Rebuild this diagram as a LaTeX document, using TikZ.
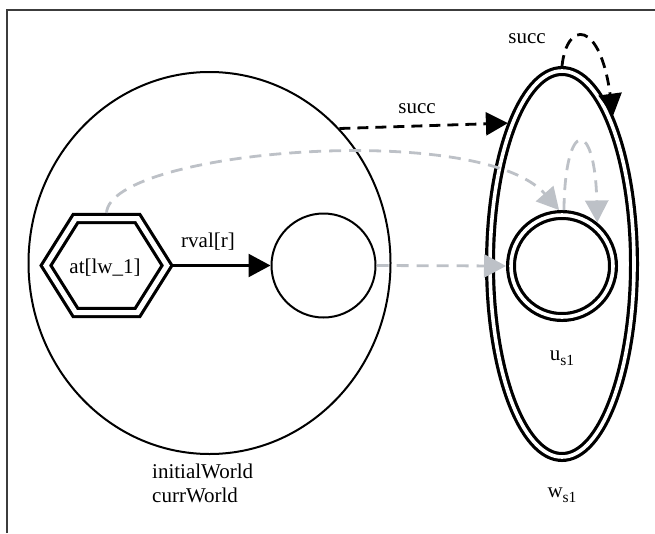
\documentclass[tikz,border=0pt]{standalone}
\usepackage{fontspec}
\setmainfont{Liberation Serif}
\usetikzlibrary{arrows.meta,shapes.geometric}
\definecolor{lgray}{RGB}{189,193,199}
\definecolor{framegray}{RGB}{60,60,60}
\newcommand\lowsub[1]{\raisebox{-5pt}{\fontsize{15.5}{15.5}\selectfont #1}}
\begin{document}
\begin{tikzpicture}[x=1pt,y=-1pt,
  lbl/.style={font=\fontsize{21}{24}\selectfont, inner sep=0pt, anchor=base},
  world/.style={draw, ellipse, line width=2pt, inner sep=0pt},
  dbl/.style={draw, line width=3.2pt, double=white, double distance=3.6pt, inner sep=0pt},
  hexline/.style={draw, line width=3.2pt, double=white, double distance=5pt, line join=miter},
  tip/.style={-{Triangle[length=22pt,width=23pt]}},
  solidarrow/.style={tip, line width=2.4pt},
  blackdash/.style={tip, line width=2.8pt, dash pattern=on 11pt off 7pt},
  graydash/.style={tip, draw=lgray, line width=2.8pt, dash pattern=on 12pt off 8pt}
]
\useasboundingbox (0,0) rectangle (655,533);
% frame
\draw[framegray, line width=1.5pt] (7,533) -- (7,10) -- (655,10);

% left world
\node[world, minimum width=362pt, minimum height=382pt] (W0) at (209.5,263) {};
% hexagon
\draw[hexline] (46,265.5) -- (75.5,218.5) -- (137.5,218.5) -- (167,265.5) -- (137.5,312.5) -- (75.5,312.5) -- cycle;
\coordinate (hexR) at (171.5,265.5);
\coordinate (hexT) at (106.5,213);
\node[lbl] (hex) at (105,273) {at[lw\_1]};
% small circle
\node[draw, circle, line width=2pt, minimum size=104pt, inner sep=0pt] (c) at (323.5,265.5) {};

% right world
\node[dbl, ellipse, minimum width=144pt, minimum height=386pt, outer sep=5pt] (ws) at (562,264) {};
\node[dbl, circle, minimum size=102pt, outer sep=5pt] (us) at (562,266) {};

% connectors
\draw[solidarrow] (hexR) -- (c.west);
\draw[blackdash] (W0.46) -- (ws.111);
\draw[blackdash] (ws.north) .. controls (567,20) and (600,20) .. (ws.71);
\draw[graydash] (hexT) .. controls (110,150) and (480,120) .. (us.93);
\draw[graydash] (us.88) .. controls (565,118) and (595,118) .. (us.51);
\draw[graydash] (c.east) -- (us.west);

% labels
\node[lbl] (lrval) at (208,247) {rval[r]};
\node[lbl] (lsucc1) at (417,113.5) {succ};
\node[lbl] (lsucc2) at (527,43) {succ};
\node[lbl, anchor=base west] (linit) at (152,478) {initialWorld};
\node[lbl, anchor=base west] (lcurr) at (152,502) {currWorld};
\node[lbl] (lu) at (562,360) {u\lowsub{s1}};
\node[lbl] (lw) at (562,497) {w\lowsub{s1}};
\end{tikzpicture}
\end{document}
